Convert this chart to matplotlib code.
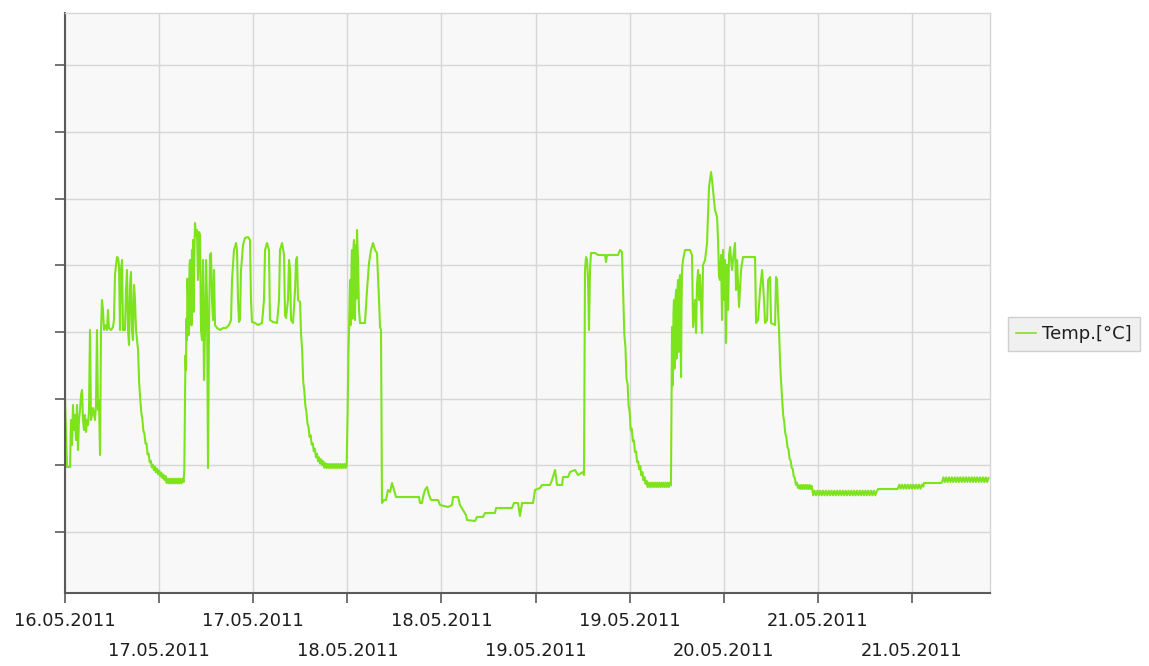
import matplotlib
matplotlib.use("Agg")
import matplotlib.pyplot as plt
import numpy as np

# Logger readings: (hours since 16.05.2011 14:00, temperature in degC)
may16_day = [
    (0.00, 20.02), (0.14, 19.00), (0.28, 17.95), (0.71, 17.95), (0.85, 19.36),
    (0.99, 18.61), (1.13, 19.81), (1.28, 19.06), (1.42, 19.51), (1.56, 18.76),
    (1.70, 19.81), (1.84, 18.46), (1.98, 19.36), (2.13, 19.66), (2.27, 20.11),
    (2.41, 20.26), (2.55, 19.36), (2.69, 19.06), (2.83, 19.51), (2.98, 19.00),
    (3.12, 19.36), (3.26, 19.21), (3.40, 19.66), (3.54, 22.06), (3.68, 19.36),
    (3.83, 19.51), (3.97, 19.72), (4.25, 19.36), (4.39, 19.81), (4.53, 22.06),
    (4.68, 19.66), (4.82, 19.96), (4.96, 18.31), (5.10, 22.06), (5.24, 22.96),
    (5.38, 22.66), (5.53, 22.06), (5.81, 22.21), (5.95, 22.06), (6.09, 22.66),
    (6.23, 22.12), (6.52, 22.06), (6.80, 22.15), (6.94, 22.36), (7.08, 23.71),
    (7.23, 24.01), (7.37, 24.25), (7.51, 24.22), (7.65, 24.01), (7.79, 22.06),
    (7.93, 23.86), (8.08, 24.16), (8.22, 22.06), (8.50, 22.06), (8.64, 23.26),
    (8.78, 23.86), (8.93, 22.06), (9.07, 21.61), (9.21, 23.41), (9.35, 23.80),
    (9.49, 22.06), (9.63, 21.76), (9.78, 23.41), (9.92, 22.96), (10.06, 22.06),
    (10.20, 21.76),
]

may16_night = [
    (10.35, 21.46), (10.50, 20.50), (10.65, 20.02), (10.80, 19.60), (10.95, 19.40),
    (11.10, 19.05), (11.25, 18.95), (11.40, 18.66), (11.55, 18.65), (11.70, 18.33),
    (11.85, 18.35), (12.00, 18.09), (12.15, 18.14), (12.30, 17.94), (12.45, 18.02),
    (12.60, 17.85), (12.75, 17.96), (12.90, 17.79), (13.05, 17.90), (13.20, 17.73),
    (13.35, 17.84), (13.50, 17.67), (13.65, 17.78), (13.80, 17.62), (13.95, 17.72),
    (14.10, 17.56), (14.25, 17.68), (14.40, 17.47), (14.55, 17.60), (14.70, 17.46),
    (14.85, 17.60), (15.00, 17.46), (15.15, 17.60), (15.30, 17.46), (15.45, 17.60),
    (15.60, 17.46), (15.75, 17.60), (15.90, 17.46), (16.05, 17.60), (16.20, 17.46),
    (16.35, 17.60), (16.50, 17.46), (16.65, 17.60), (16.80, 17.50), (16.90, 17.86),
]

may17_day = [
    (17.00, 19.72), (17.07, 21.30), (17.14, 20.86), (17.21, 22.40), (17.28, 21.76),
    (17.35, 23.60), (17.43, 22.96), (17.50, 21.90), (17.57, 22.06), (17.64, 24.00),
    (17.71, 24.16), (17.78, 22.50), (17.85, 23.26), (17.92, 22.20), (17.99, 24.46),
    (18.07, 23.00), (18.14, 24.76), (18.21, 22.60), (18.28, 23.86),
    (18.42, 25.27), (18.56, 24.91), (18.70, 25.06), (18.84, 23.56), (18.99, 25.00),
    (19.13, 24.91), (19.27, 22.06), (19.41, 21.76), (19.55, 24.16), (19.69, 20.56),
    (19.84, 22.06), (19.98, 24.16), (20.12, 22.96), (20.26, 17.92), (20.40, 22.06),
    (20.54, 24.31), (20.69, 24.37), (20.83, 22.96), (20.97, 22.36), (21.11, 23.86),
    (21.25, 22.21), (21.54, 22.12), (21.96, 22.06), (22.39, 22.12), (22.81, 22.12),
    (23.24, 22.21), (23.52, 22.36), (23.66, 23.56), (23.94, 24.46), (24.23, 24.67),
    (24.37, 24.46), (24.51, 22.96), (24.65, 22.30), (24.79, 22.36), (24.94, 23.86),
    (25.22, 24.61), (25.50, 24.82), (25.93, 24.85), (26.21, 24.76), (26.35, 22.96),
    (26.49, 22.30), (26.92, 22.27), (27.34, 22.21), (27.91, 22.27), (28.19, 22.96),
    (28.34, 24.46), (28.62, 24.67), (28.90, 24.46), (29.04, 22.36), (29.47, 22.30),
    (30.04, 22.27), (30.32, 22.96), (30.46, 24.46), (30.75, 24.67), (31.03, 24.31),
    (31.17, 22.51), (31.31, 22.42), (31.59, 22.96), (31.74, 24.16), (31.88, 23.86),
    (32.02, 22.36), (32.30, 22.27), (32.59, 23.26), (32.73, 24.16), (32.87, 24.25),
    (33.01, 22.96),
]

may17_night = [
    (33.30, 22.90), (33.45, 21.90), (33.60, 21.46), (33.75, 20.50), (33.90, 20.25),
    (34.05, 19.80), (34.20, 19.60), (34.35, 19.25), (34.50, 19.15), (34.65, 18.85),
    (34.80, 18.90), (34.95, 18.62), (35.10, 18.66), (35.25, 18.42), (35.40, 18.50),
    (35.55, 18.24), (35.70, 18.35), (35.85, 18.12), (36.00, 18.24), (36.15, 18.05),
    (36.30, 18.18), (36.45, 18.00), (36.60, 18.12), (36.75, 17.93), (36.90, 18.06),
    (37.05, 17.92), (37.20, 18.04), (37.35, 17.92), (37.50, 18.04), (37.65, 17.92),
    (37.80, 18.04), (37.95, 17.92), (38.10, 18.04), (38.25, 17.92), (38.40, 18.04),
    (38.55, 17.92), (38.70, 18.04), (38.85, 17.92), (39.00, 18.04), (39.15, 17.92),
    (39.30, 18.04), (39.45, 17.92), (39.60, 18.04), (39.75, 17.92), (39.90, 17.98),
]

may18_day = [
    (40.03, 19.50), (40.10, 20.56), (40.17, 21.50), (40.24, 22.06), (40.31, 22.90),
    (40.38, 23.56), (40.45, 22.20), (40.52, 22.36), (40.59, 24.00), (40.66, 24.46),
    (40.73, 22.40), (40.80, 22.96), (40.88, 24.60), (40.95, 24.76), (41.02, 22.50),
    (41.09, 22.36), (41.16, 24.20), (41.23, 24.61), (41.30, 23.00), (41.37, 25.06),
    (41.51, 24.16), (41.65, 22.66), (41.80, 22.27), (42.22, 22.27), (42.50, 22.27),
    (42.79, 23.26), (43.07, 24.07), (43.35, 24.46), (43.64, 24.67), (43.92, 24.46),
    (44.20, 24.37), (44.49, 22.96), (44.63, 22.15), (44.77, 22.06), (44.91, 16.87),
    (45.19, 16.96), (45.48, 16.96), (45.76, 17.26), (46.05, 17.20), (46.33, 17.47),
    (46.61, 17.26), (46.90, 17.05), (48.88, 17.05), (50.15, 17.05), (50.30, 16.87),
    (50.58, 16.87), (50.72, 17.05), (51.00, 17.26), (51.29, 17.35), (51.57, 17.11),
    (51.86, 16.96), (52.85, 16.96), (53.13, 16.81), (54.27, 16.75), (54.83, 16.81),
    (54.98, 17.05), (55.69, 17.05), (55.96, 16.81), (56.39, 16.66), (56.81, 16.51),
    (56.96, 16.36), (58.09, 16.33), (58.37, 16.45), (59.22, 16.45), (59.51, 16.57),
    (60.92, 16.57), (61.07, 16.72), (63.33, 16.72), (63.61, 16.87), (64.18, 16.87),
    (64.46, 16.48), (64.75, 16.87), (66.31, 16.87), (66.59, 17.26), (67.30, 17.32),
    (67.58, 17.41), (68.72, 17.41), (69.00, 17.56), (69.43, 17.86), (69.71, 17.41),
    (70.42, 17.41), (70.56, 17.65), (71.27, 17.65), (71.55, 17.80), (72.26, 17.86),
    (72.68, 17.71), (73.39, 17.80), (73.53, 17.71),
]

may19_day = [
    (73.67, 23.86), (73.82, 24.25), (73.96, 24.16), (74.10, 23.56), (74.24, 22.06),
    (74.38, 23.86), (74.52, 24.37), (75.09, 24.37), (75.52, 24.31), (76.51, 24.31),
    (76.65, 24.10), (76.79, 24.31), (78.35, 24.31), (78.63, 24.46), (78.91, 24.40),
]

may19_night = [
    (79.10, 23.00), (79.25, 21.90), (79.40, 21.55), (79.55, 20.60), (79.70, 20.45),
    (79.85, 19.80), (80.00, 19.60), (80.15, 19.05), (80.30, 19.10), (80.45, 18.72),
    (80.60, 18.75), (80.75, 18.40), (80.90, 18.42), (81.05, 18.10), (81.20, 18.12),
    (81.35, 17.88), (81.50, 17.98), (81.65, 17.70), (81.80, 17.80), (81.95, 17.55),
    (82.10, 17.65), (82.25, 17.44), (82.40, 17.54), (82.55, 17.35), (82.70, 17.48),
    (82.85, 17.35), (83.00, 17.48), (83.15, 17.35), (83.30, 17.48), (83.45, 17.35),
    (83.60, 17.48), (83.75, 17.35), (83.90, 17.48), (84.05, 17.35), (84.20, 17.48),
    (84.35, 17.35), (84.50, 17.48), (84.65, 17.35), (84.80, 17.48), (84.95, 17.35),
    (85.10, 17.48), (85.25, 17.35), (85.40, 17.48), (85.55, 17.35), (85.70, 17.48),
    (85.85, 17.40),
]

may20_day = [
    (86.00, 22.15), (86.07, 20.40), (86.14, 20.86), (86.21, 22.60), (86.28, 22.96),
    (86.35, 20.90), (86.42, 21.16), (86.50, 23.00), (86.57, 23.26), (86.64, 21.20),
    (86.71, 21.46), (86.78, 23.30), (86.85, 23.56), (86.92, 21.40), (86.99, 21.76),
    (87.06, 23.50), (87.13, 23.71), (87.20, 22.00), (87.28, 20.65), (87.35, 22.80),
    (87.42, 23.86), (87.56, 24.16), (87.84, 24.46), (88.55, 24.46), (88.83, 24.31),
    (88.98, 22.15), (89.26, 22.96), (89.40, 21.97), (89.54, 23.41), (89.69, 23.86),
    (89.83, 22.96), (89.97, 23.71), (90.25, 21.97), (90.39, 24.01), (90.68, 24.16),
    (90.96, 24.67), (91.24, 26.35), (91.53, 26.80), (91.67, 26.56), (91.81, 26.26),
    (92.09, 25.66), (92.38, 25.45), (92.52, 24.76), (92.66, 23.65), (92.80, 23.56),
    (92.94, 24.31), (93.09, 22.36), (93.23, 24.46), (93.37, 22.96), (93.51, 24.16),
    (93.65, 21.67), (93.79, 24.01), (93.94, 22.66), (94.08, 24.31), (94.22, 24.55),
    (94.50, 23.86), (94.79, 24.46), (94.93, 24.67), (95.07, 23.26), (95.21, 24.16),
    (95.50, 22.75), (95.78, 23.86), (96.06, 24.25), (97.05, 24.25), (97.76, 24.25),
    (97.91, 22.27), (98.19, 22.36), (98.47, 23.26), (98.76, 23.86), (99.04, 22.96),
    (99.18, 22.27), (99.47, 22.36), (99.61, 23.56), (99.89, 23.65), (100.03, 22.27),
    (100.60, 22.21), (100.74, 23.65), (100.88, 23.56), (101.02, 22.66), (101.16, 22.06),
]

may20_night = [
    (101.30, 21.16), (101.45, 20.50), (101.60, 20.00), (101.75, 19.50), (101.90, 19.30),
    (102.05, 18.95), (102.20, 18.85), (102.35, 18.55), (102.50, 18.48), (102.65, 18.20),
    (102.80, 18.15), (102.95, 17.92), (103.10, 17.90), (103.25, 17.66), (103.40, 17.62),
    (103.55, 17.42), (103.70, 17.48), (103.85, 17.32), (104.00, 17.40), (104.15, 17.29),
    (104.30, 17.41), (104.45, 17.29), (104.60, 17.41), (104.75, 17.29), (104.90, 17.41),
    (105.05, 17.29), (105.20, 17.41), (105.35, 17.29), (105.50, 17.41), (105.65, 17.29),
    (105.80, 17.38),
]

may21 = [
    (106.0, 17.10), (106.2, 17.24), (106.4, 17.10), (106.6, 17.24), (106.8, 17.10),
    (107.0, 17.24), (107.2, 17.10), (107.4, 17.24), (107.6, 17.10), (107.8, 17.24),
    (108.0, 17.10), (108.2, 17.24), (108.4, 17.10), (108.6, 17.24), (108.8, 17.10),
    (109.0, 17.24), (109.2, 17.10), (109.4, 17.24), (109.6, 17.10), (109.8, 17.24),
    (110.0, 17.10), (110.2, 17.24), (110.4, 17.10), (110.6, 17.24), (110.8, 17.10),
    (111.0, 17.24), (111.2, 17.10), (111.4, 17.24), (111.6, 17.10), (111.8, 17.24),
    (112.0, 17.10), (112.2, 17.24), (112.4, 17.10), (112.6, 17.24), (112.8, 17.10),
    (113.0, 17.24), (113.2, 17.10), (113.4, 17.24), (113.6, 17.10), (113.8, 17.24),
    (114.0, 17.10), (114.2, 17.24), (114.4, 17.10), (114.6, 17.24), (114.8, 17.10),
    (115.0, 17.22), (115.2, 17.29), (117.9, 17.29),
    (118.0, 17.30), (118.2, 17.42), (118.4, 17.30), (118.6, 17.42), (118.8, 17.30),
    (119.0, 17.42), (119.2, 17.30), (119.4, 17.42), (119.6, 17.30), (119.8, 17.42),
    (120.0, 17.30), (120.2, 17.42), (120.4, 17.30), (120.6, 17.42), (120.8, 17.30),
    (121.0, 17.42), (121.2, 17.30), (121.4, 17.42), (121.6, 17.36), (121.7, 17.47),
    (124.1, 17.47),
    (124.25, 17.50), (124.45, 17.64), (124.65, 17.50), (124.85, 17.64), (125.05, 17.50),
    (125.25, 17.64), (125.45, 17.50), (125.65, 17.64), (125.85, 17.50), (126.05, 17.64),
    (126.25, 17.50), (126.45, 17.64), (126.65, 17.50), (126.85, 17.64), (127.05, 17.50),
    (127.25, 17.64), (127.45, 17.50), (127.65, 17.64), (127.85, 17.50), (128.05, 17.64),
    (128.25, 17.50), (128.45, 17.64), (128.65, 17.50), (128.85, 17.64), (129.05, 17.50),
    (129.25, 17.64), (129.45, 17.50), (129.65, 17.64), (129.85, 17.50), (130.05, 17.64),
    (130.25, 17.50), (130.45, 17.64), (130.65, 17.50), (130.85, 17.62),
]

# Tick marks every 13 h 20 min, labels alternate between two rows
tick_hours = np.arange(10) * 40.0 / 3.0
labels_upper = ["16.05.2011", "17.05.2011", "18.05.2011", "19.05.2011", "21.05.2011"]
labels_lower = ["17.05.2011", "18.05.2011", "19.05.2011", "20.05.2011", "21.05.2011"]
y_grid = np.arange(16, 31, 2)

LINE_GREEN = "#7de31c"
GRID_GREY = "#d6d6d6"
AXIS_GREY = "#5a5a5a"
TEXT_COL = "#1e1e1e"

series = np.array(may16_day + may16_night + may17_day + may17_night + may18_day
                  + may19_day + may19_night + may20_day + may20_night + may21)

W, H = 1149, 666
fig = plt.figure(figsize=(W / 100, H / 100), dpi=100)
fig.patch.set_facecolor("white")
ax = fig.add_axes([65 / W, 1 - 593 / H, (990 - 65) / W, (593 - 13) / H])
ax.set_facecolor("#f8f8f8")

ax.plot(series[:, 0], series[:, 1], color=LINE_GREEN, lw=1.5, label="Temp.[°C]")

ax.set_xlim(0, 131.05)
ax.set_ylim(14.17, 31.57)

ax.set_xticks(tick_hours[0::2])
ax.set_xticklabels(labels_upper)
ax.set_xticks(tick_hours[1::2], minor=True)
ax.set_xticklabels(labels_lower, minor=True)
ax.set_yticks(y_grid)

ax.tick_params(axis="x", which="both", direction="out", length=7.2, width=1.2,
               color=AXIS_GREY, labelsize=12.8, labelcolor=TEXT_COL)
ax.tick_params(axis="x", which="major", pad=6.5)
ax.tick_params(axis="x", which="minor", pad=28)
ax.tick_params(axis="y", direction="out", length=7.2, width=1.2,
               color=AXIS_GREY, labelleft=False)

ax.grid(True, which="both", axis="x", color=GRID_GREY, lw=1.0)
ax.grid(True, which="major", axis="y", color=GRID_GREY, lw=1.0)
ax.set_axisbelow(True)

for side in ("left", "bottom"):
    ax.spines[side].set_color(AXIS_GREY)
    ax.spines[side].set_linewidth(1.5)
for side in ("top", "right"):
    ax.spines[side].set_color(GRID_GREY)
    ax.spines[side].set_linewidth(1.0)

leg = ax.legend(loc="center left", bbox_to_anchor=(1008 / W, 1 - 334 / H),
                bbox_transform=fig.transFigure, frameon=True, fancybox=False,
                framealpha=1, facecolor="#f0f0f0", edgecolor="#cfcfcf",
                fontsize=13, handlelength=1.1, handletextpad=0.35,
                borderpad=0.45, borderaxespad=0)
for line in leg.get_lines():
    line.set_linewidth(1.2)
for txt in leg.get_texts():
    txt.set_color(TEXT_COL)

fig.savefig("out.png", dpi=100)
